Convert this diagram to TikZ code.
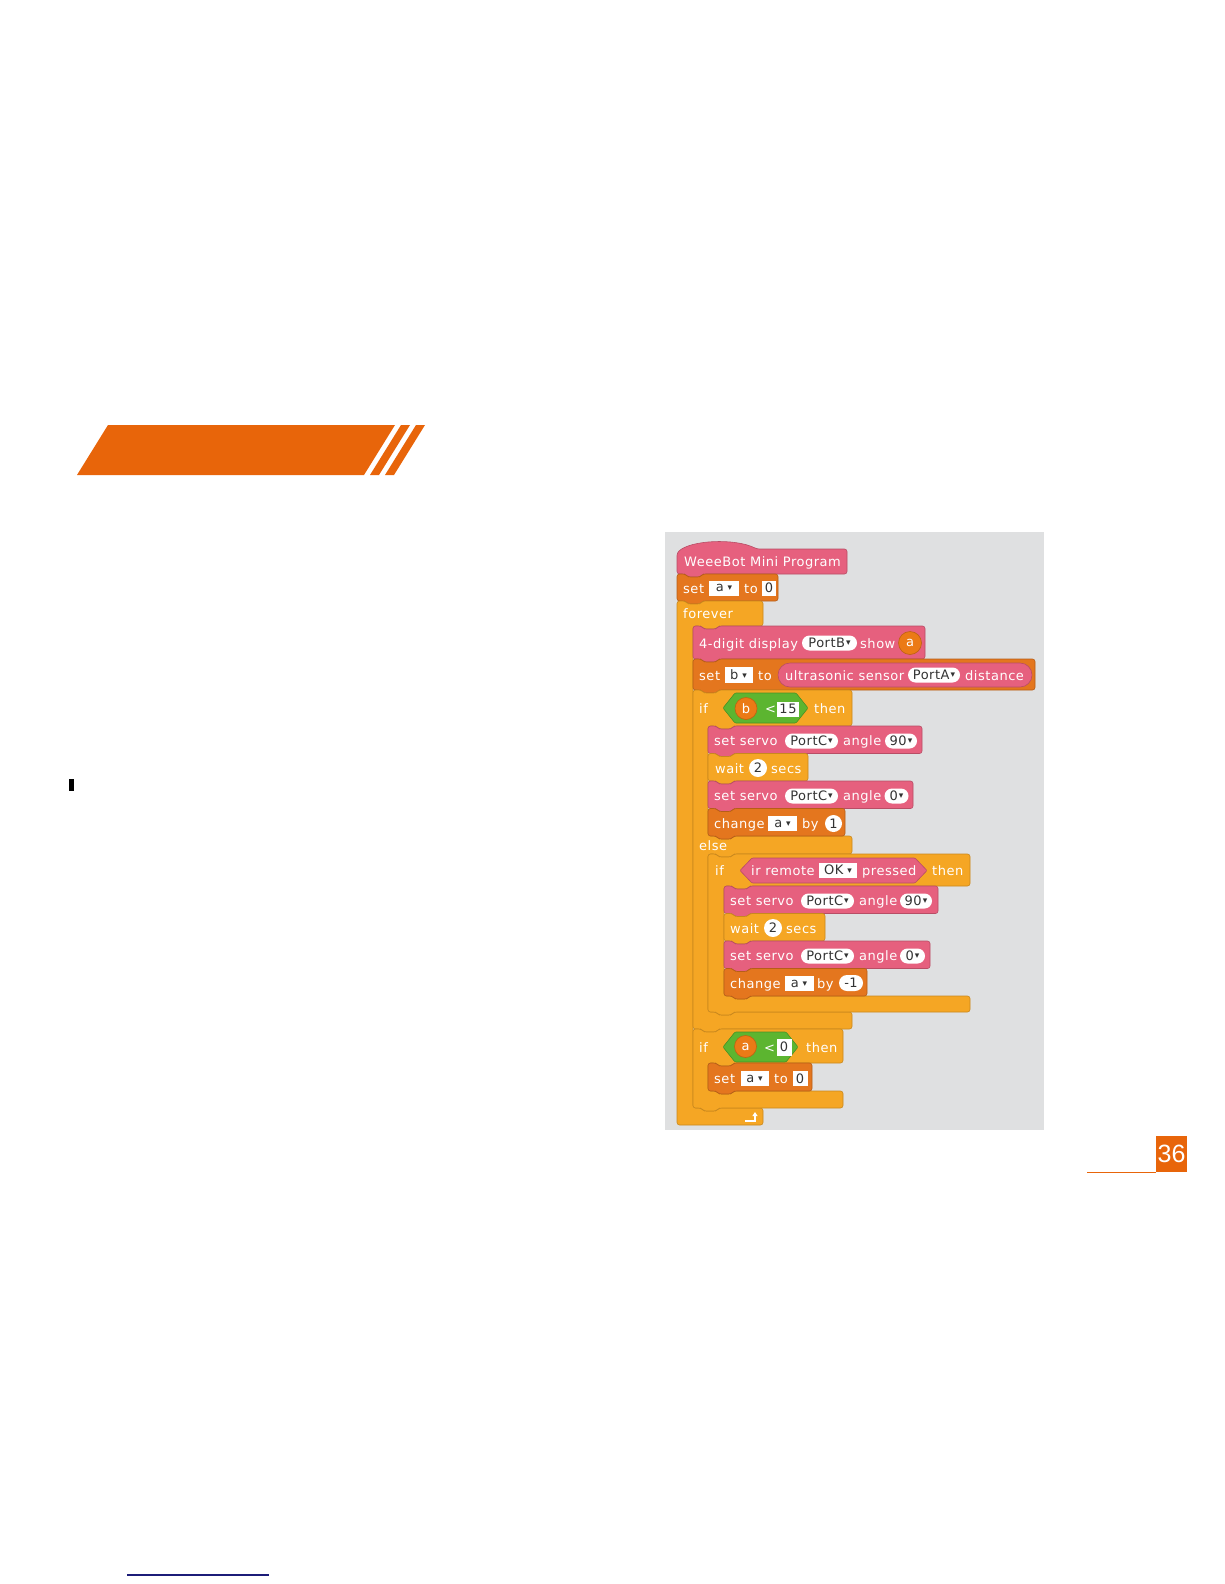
\documentclass[tikz,border=0pt]{standalone}
\usepackage{fontspec}
\newfontfamily\blockfam[LetterSpace=4]{DejaVu Sans}
\newfontfamily\pagefam{Liberation Sans}
\usetikzlibrary{arrows.meta}

\definecolor{robot}{HTML}{E6607E}
\definecolor{datavar}{HTML}{E4761E}
\definecolor{ctrl}{HTML}{F5A624}
\definecolor{oper}{HTML}{5CB530}
\definecolor{varcol}{HTML}{EB7A16}
\definecolor{stage}{HTML}{DFE0E1}
\definecolor{banner}{HTML}{E8650A}
\definecolor{navy}{HTML}{1C1C78}

\newcommand{\blockfont}{\blockfam\fontsize{13}{15}\selectfont}
\newcommand{\dn}{\hspace{1pt}\raisebox{2pt}{\fontsize{9}{9}\selectfont ▾}}
\newcommand{\fdn}{\hspace{4pt}\raisebox{1pt}{\fontsize{9}{9}\selectfont ▾}}

% stack block with notch and bump: style, x1, y1, x2, y2
\newcommand{\stackblk}[5]{\path[#1] (#2,#3) -- (#2+8,#3) -- (#2+11,#3+3) -- (#2+23,#3+3) -- (#2+26,#3) -- (#4,#3) -- (#4,#5) -- (#2+26,#5) -- (#2+23,#5+3) -- (#2+11,#5+3) -- (#2+8,#5) -- (#2,#5) -- cycle;}
% boolean hexagon: style, x1, y1, x2, y2
\newcommand{\hexblk}[5]{\path[#1] (#2,{(#3+#5)/2}) -- (#2+12,#3) -- (#4-12,#3) -- (#4,{(#3+#5)/2}) -- (#4-12,#5) -- (#2+12,#5) -- cycle;}
% c block: style, x1, ytop, xright, ytopbar, xarm, ybotbar, ybottom
\newcommand{\cblk}[8]{\path[#1] (#2,#3) -- (#2+8,#3) -- (#2+11,#3+3) -- (#2+23,#3+3) -- (#2+26,#3) -- (#4,#3) -- (#4,#5) -- (#6+26,#5) -- (#6+23,#5+3) -- (#6+11,#5+3) -- (#6+8,#5) -- (#6,#5) -- (#6,#7) -- (#6+8,#7) -- (#6+11,#7+3) -- (#6+23,#7+3) -- (#6+26,#7) -- (#4,#7) -- (#4,#8) -- (#2+26,#8) -- (#2+23,#8+3) -- (#2+11,#8+3) -- (#2+8,#8) -- (#2,#8) -- cycle;}

\begin{document}
\begin{tikzpicture}[
  x=1pt, y=-1pt,
  blk/.style={line width=0.6pt, rounded corners=2.5pt},
  pinkblk/.style={blk, fill=robot, draw=robot!80!black},
  datablk/.style={blk, fill=datavar, draw=datavar!80!black},
  ctrlblk/.style={blk, fill=ctrl, draw=ctrl!82!black},
  operhex/.style={blk, rounded corners=1pt, fill=oper, draw=oper!80!black},
  pinkhex/.style={blk, rounded corners=1pt, fill=robot, draw=robot!80!black},
  lbl/.style={anchor=base west, inner sep=0pt, text=white, font=\blockfont},
  field/.style={fill=white, inner sep=0pt, minimum height=15pt, text=black!80, font=\blockfont},
  pill/.style={field, rounded corners=7.5pt, minimum height=15pt},
  numpill/.style={field, rounded corners=8pt, minimum height=16pt},
  numcirc/.style={field, circle, minimum size=18pt},
  varrep/.style={circle, fill=varcol, draw=varcol!80!black, line width=0.6pt, text=white, inner sep=0pt, minimum size=23pt, font=\blockfont}
]
\useasboundingbox (0,0) rectangle (1224,1584);
\fill[white] (0,0) rectangle (1224,1584);

% --- page decorations ---
\fill[banner] (77,475) -- (108,425) -- (395,425) -- (364,475) -- cycle;
\fill[banner] (401,425) -- (410,425) -- (379,475) -- (370,475) -- cycle;
\fill[banner] (416,425) -- (425,425) -- (394,475) -- (385,475) -- cycle;
\fill[black] (69,779) rectangle (74,791);
\draw[navy, line width=1.5pt] (127,1575) -- (269,1575);
\draw[banner, line width=1pt] (1087,1172) -- (1156,1172);
\fill[banner] (1156,1136) rectangle (1187,1172);
\node[text=white, inner sep=0pt, font=\pagefam\fontsize{25}{25}\selectfont] (pagenum) at (1171.5,1154) {36};

% --- stage ---
\fill[stage] (665,532) rectangle (1044,1130);

% --- hat ---
\path[pinkblk] (677,574) -- (677,553) .. controls (690,540) and (735,538) .. (757,549) -- (847,549) -- (847,574) -- (703,574) -- (700,577) -- (688,577) -- (685,574) -- cycle;
\node[lbl] (hatlbl) at (684,566) {WeeeBot Mini Program};

% --- set a to 0 ---
\stackblk{datablk}{677}{574}{778}{601}
\node[lbl] (setA) at (683,593) {set};
\node[field, minimum width=30pt] (fieldaA) at (724,588) {a\fdn};
\node[lbl] (toA) at (744,593) {to};
\node[field, minimum width=14pt] (zeroA) at (769,588) {0};

% --- forever ---
\path[ctrlblk] (677,601) -- (685,601) -- (688,604) -- (700,604) -- (703,601) -- (763,601) -- (763,626) -- (719,626) -- (716,629) -- (704,629) -- (701,626) -- (693,626) -- (693,1108) -- (701,1108) -- (704,1111) -- (716,1111) -- (719,1108) -- (763,1108) -- (763,1125) -- (677,1125) -- cycle;
\node[lbl] (foreverlbl) at (683,618) {forever};
\draw[white, line width=1.6pt, -{Triangle[length=4pt,width=5pt]}] (745,1121) -- (755,1121) -- (755,1112);

% --- 4-digit display ---
\stackblk{pinkblk}{693}{626}{925}{659}
\node[lbl] (displbl) at (699,648) {4-digit display};
\node[pill, minimum width=55pt] (portB) at (829.5,643) {PortB\dn};
\node[lbl] (showlbl) at (860,648) {show};
\node[varrep] (showa) at (910,643) {a};

% --- set b to distance ---
\stackblk{datablk}{693}{659}{1035}{690}
\node[lbl] (setB) at (699,680) {set};
\node[field, minimum width=28pt, minimum height=16pt] (fieldb) at (738.5,675) {b\fdn};
\node[lbl] (toB) at (758,680) {to};
\path[pinkblk, rounded corners=12pt] (778,663) rectangle (1032,687);
\node[lbl] (ultralbl) at (785,680) {ultrasonic sensor};
\node[pill, minimum width=52pt] (portA) at (934,675) {PortA\dn};
\node[lbl] (distlbl) at (965,680) {distance};

% --- if b < 15 then / else ---
\path[ctrlblk] (693,690) -- (701,690) -- (704,693) -- (716,693) -- (719,690) -- (852,690) -- (852,726) -- (734,726) -- (731,729) -- (719,729) -- (716,726) -- (708,726) -- (708,836) -- (716,836) -- (719,839) -- (731,839) -- (734,836) -- (852,836) -- (852,854) -- (734,854) -- (731,857) -- (719,857) -- (716,854) -- (708,854) -- (708,1012) -- (716,1012) -- (719,1015) -- (731,1015) -- (734,1012) -- (852,1012) -- (852,1029) -- (719,1029) -- (716,1032) -- (704,1032) -- (701,1029) -- (693,1029) -- cycle;
\node[lbl] (ifA) at (699,713) {if};
\hexblk{operhex}{723}{693}{808}{723}
\node[varrep, minimum size=22pt] (varb) at (746,708.5) {b};
\node[lbl] (ltA) at (765,713) {<};
\node[field, minimum width=22pt, minimum height=15pt] (fifteen) at (788,709) {15};
\node[lbl] (thenA) at (814,713) {then};

\stackblk{pinkblk}{708}{726}{922}{753.5}
\node[lbl] (servoA) at (714,745.5) {set servo};
\node[pill, minimum width=53pt] (portCA) at (811.5,741) {PortC\dn};
\node[lbl] (angleA) at (843,745.5) {angle};
\node[pill, minimum width=32pt] (ninetyA) at (901,741) {90\dn};

\stackblk{ctrlblk}{708}{753.5}{808}{781}
\node[lbl] (waitA) at (715,773) {wait};
\node[numcirc] (twoA) at (758,768) {2};
\node[lbl] (secsA) at (771,773) {secs};

\stackblk{pinkblk}{708}{781}{913}{808.5}
\node[lbl] (servoB) at (714,800.5) {set servo};
\node[pill, minimum width=53pt] (portCB) at (811.5,796) {PortC\dn};
\node[lbl] (angleB) at (843,800.5) {angle};
\node[pill, minimum width=24pt] (zeroB) at (896.5,796) {0\dn};

\stackblk{datablk}{708}{808.5}{845}{836}
\node[lbl] (changeA) at (714,828) {change};
\node[field, minimum width=29pt] (fieldaB) at (782.5,823.5) {a\fdn};
\node[lbl] (byA) at (802,828) {by};
\node[numcirc, minimum size=17pt] (oneA) at (833.5,823.5) {1};

\node[lbl] (elselbl) at (699,850) {else};

% --- if ir remote pressed ---
\cblk{ctrlblk}{708}{854}{970}{886}{724}{996}{1012}
\node[lbl] (ifB) at (715,875) {if};
\hexblk{pinkhex}{740}{858}{927}{883}
\node[lbl] (irlbl) at (751,875) {ir remote};
\node[field, minimum width=38pt] (okfield) at (838,870) {OK\fdn};
\node[lbl] (pressedlbl) at (862,875) {pressed};
\node[lbl] (thenB) at (932,875) {then};

\stackblk{pinkblk}{724}{886}{938}{913.5}
\node[lbl] (servoC) at (730,905.5) {set servo};
\node[pill, minimum width=53pt] (portCC) at (827.5,901) {PortC\dn};
\node[lbl] (angleC) at (859,905.5) {angle};
\node[pill, minimum width=32pt] (ninetyB) at (916,901) {90\dn};

\stackblk{ctrlblk}{724}{913.5}{825}{941}
\node[lbl] (waitB) at (730,933) {wait};
\node[numcirc] (twoB) at (773,928) {2};
\node[lbl] (secsB) at (786,933) {secs};

\stackblk{pinkblk}{724}{941}{930}{968.5}
\node[lbl] (servoD) at (730,960.5) {set servo};
\node[pill, minimum width=53pt] (portCD) at (827.5,956) {PortC\dn};
\node[lbl] (angleD) at (859,960.5) {angle};
\node[pill, minimum width=25pt] (zeroC) at (912.5,956) {0\dn};

\stackblk{datablk}{724}{968.5}{867}{996}
\node[lbl] (changeB) at (730,988) {change};
\node[field, minimum width=29pt] (fieldaC) at (799,983.5) {a\fdn};
\node[lbl] (byB) at (817,988) {by};
\node[numpill, minimum width=24pt] (minusone) at (851,983) {-1};

% --- if a < 0 ---
\cblk{ctrlblk}{693}{1029}{843}{1063}{708}{1091}{1108}
\node[lbl] (ifC) at (699,1052) {if};
\hexblk{operhex}{723}{1032}{798}{1062}
\node[varrep, minimum size=22pt] (vara) at (745.5,1046.5) {a};
\node[lbl] (ltB) at (764,1052) {<};
\node[field, minimum width=15pt, minimum height=17pt] (zeroD) at (784,1047) {0};
\node[lbl] (thenC) at (806,1052) {then};

\stackblk{datablk}{708}{1063}{812}{1091}
\node[lbl] (setC) at (714,1083) {set};
\node[field, minimum width=28pt] (fieldaD) at (754.5,1078.5) {a\fdn};
\node[lbl] (toC) at (774,1083) {to};
\node[field, minimum width=15pt] (zeroE) at (800,1078.5) {0};

\end{tikzpicture}
\end{document}
